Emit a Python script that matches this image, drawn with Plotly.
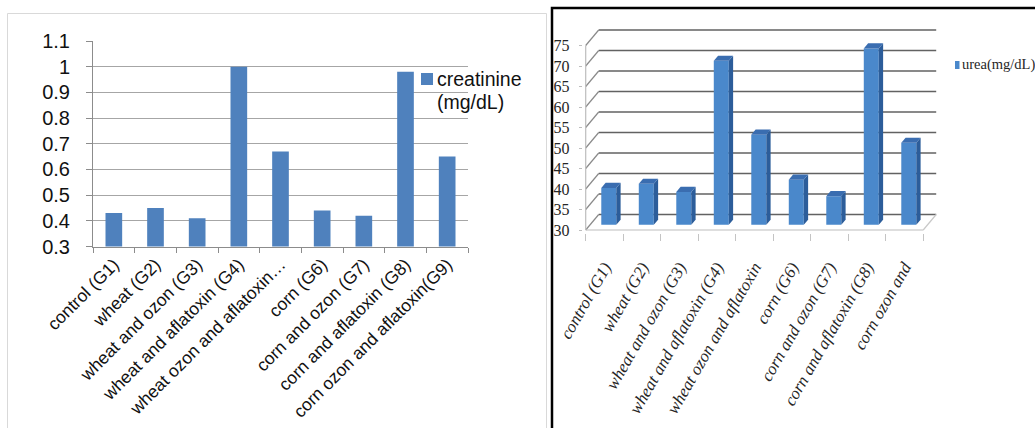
import plotly.graph_objects as go

# ---------------- data ----------------
groups = ["control (G1)", "wheat (G2)", "wheat and ozon (G3)",
          "wheat and aflatoxin (G4)", "wheat ozon and aflatoxin…", "corn (G6)",
          "corn and ozon (G7)", "corn and aflatoxin (G8)", "corn ozon and aflatoxin(G9)"]
creatinine = [0.43, 0.45, 0.41, 1.00, 0.67, 0.44, 0.42, 0.98, 0.65]
creatinine_ticks = [0.3, 0.4, 0.5, 0.6, 0.7, 0.8, 0.9, 1.0, 1.1]
creatinine_tick_text = ["0.3", "0.4", "0.5", "0.6", "0.7", "0.8", "0.9", "1", "1.1"]

urea_groups = ["control (G1)", "wheat (G2)", "wheat and ozon (G3)",
               "wheat and aflatoxin (G4)", "wheat ozon and aflatoxin", "corn (G6)",
               "corn and ozon (G7)", "corn and aflatoxin (G8)", "corn ozon and"]
urea = [39, 40, 38, 70, 52, 41, 37, 73, 50]
urea_ticks = [30, 35, 40, 45, 50, 55, 60, 65, 70, 75]

# ---------------- page geometry helpers ----------------
W, H = 1035, 428


def fx(px):
    return px / W


def fy(py):
    return 1 - py / H


BLUE = "#4f81bd"
SANS = "Liberation Sans"
SERIF = "Liberation Serif"

# ---------------- pseudo-3D geometry for the urea chart ----------------
n = len(urea_groups)
CAT_PX = 37.5          # pixels per category
VAL_PX = 4.1           # pixels per mg/dL
DEPTH_X_PX, DEPTH_Y_PX = 13.0, 15.5   # oblique offset of the back wall
DX = DEPTH_X_PX / CAT_PX
DY = DEPTH_Y_PX / VAL_PX
U_MIN, U_MAX = urea_ticks[0], urea_ticks[-1]
PAD = 3.0
FRONT_LEFT, FRONT_BOTTOM = 585.7, 230.0

x2_px = (FRONT_LEFT - PAD, FRONT_LEFT + (n + DX) * CAT_PX + PAD)
y2_px = (FRONT_BOTTOM + PAD, FRONT_BOTTOM - (U_MAX - U_MIN + DY) * VAL_PX - PAD)
x2_range = [-0.5 - PAD / CAT_PX, n - 0.5 + DX + PAD / CAT_PX]
y2_range = [U_MIN - PAD / VAL_PX, U_MAX + DY + PAD / VAL_PX]

# the bars stand one third of the way into the depth
bx, by = DEPTH_X_PX / 3, DEPTH_Y_PX / 3
x3_px = (x2_px[0] + bx, x2_px[1] + bx)
y3_px = (FRONT_BOTTOM - by, y2_px[1] - by)
y3_range = [U_MIN, y2_range[1]]

BAR_W = 0.4
ddx, ddy = DX / 3, DY / 3

fig = go.Figure()

# creatinine bars
fig.add_trace(go.Bar(x=groups, y=creatinine, marker=dict(color=BLUE, line=dict(width=0)),
                     name="creatinine (mg/dL)", showlegend=False, xaxis="x", yaxis="y"))

# urea bars (front faces)
fig.add_trace(go.Bar(x=urea_groups, y=urea, marker=dict(color="#4a88cb", line=dict(width=0)),
                     name="urea(mg/dL)", showlegend=False, xaxis="x3", yaxis="y3"))

shapes = []

# panel frames
shapes.append(dict(type="rect", xref="paper", yref="paper", x0=fx(7.5), x1=fx(546.5),
                   y0=fy(440), y1=fy(13.5), line=dict(color="#d9d9d9", width=1)))
shapes.append(dict(type="rect", xref="paper", yref="paper", x0=fx(552), x1=fx(1050),
                   y0=fy(440), y1=fy(8), line=dict(color="#000000", width=2.5)))

# back wall gridlines and side wall diagonals
for v in urea_ticks:
    shapes.append(dict(type="line", xref="x2", yref="y2", layer="below",
                       x0=-0.5 + DX, x1=n - 0.5 + DX, y0=v + DY, y1=v + DY,
                       line=dict(color="#626262", width=1.6)))
    shapes.append(dict(type="line", xref="x2", yref="y2", layer="below",
                       x0=-0.5, x1=-0.5 + DX, y0=v, y1=v + DY,
                       line=dict(color="#8a8a8a", width=1.2)))

# floor edges and front value axis
shapes.append(dict(type="line", xref="x2", yref="y2", layer="below",
                   x0=-0.5, x1=n - 0.5, y0=U_MIN, y1=U_MIN,
                   line=dict(color="#bdbdbd", width=1.2)))
shapes.append(dict(type="line", xref="x2", yref="y2", layer="below",
                   x0=n - 0.5, x1=n - 0.5 + DX, y0=U_MIN, y1=U_MIN + DY,
                   line=dict(color="#c8c8c8", width=1.2)))
shapes.append(dict(type="line", xref="x2", yref="y2", layer="below",
                   x0=-0.5, x1=-0.5, y0=U_MIN, y1=U_MAX,
                   line=dict(color="#bdbdbd", width=1.2)))

# side and top faces of the urea bars
for i, v in enumerate(urea):
    xr = i + BAR_W / 2
    xl = i - BAR_W / 2
    side = (f"M {xr},{U_MIN} L {xr},{v} L {xr + ddx},{v + ddy} "
            f"L {xr + ddx},{U_MIN + ddy} Z")
    top = (f"M {xl},{v} L {xr},{v} L {xr + ddx},{v + ddy} "
           f"L {xl + ddx},{v + ddy} Z")
    shapes.append(dict(type="path", xref="x3", yref="y3", path=side, layer="above",
                       fillcolor="#2c5d9a", line=dict(width=0)))
    shapes.append(dict(type="path", xref="x3", yref="y3", path=top, layer="above",
                       fillcolor="#3a6db0", line=dict(width=0)))

# legend keys
shapes.append(dict(type="rect", xref="paper", yref="paper", x0=fx(421), x1=fx(433),
                   y0=fy(85), y1=fy(73), fillcolor=BLUE, line=dict(width=0)))
shapes.append(dict(type="rect", xref="paper", yref="paper", x0=fx(955), x1=fx(959.5),
                   y0=fy(69), y1=fy(61), fillcolor="#4a88cb", line=dict(width=0)))

annotations = [
    dict(text="creatinine", xref="paper", yref="paper", x=fx(435), y=fy(78.5),
         xanchor="left", yanchor="middle", showarrow=False,
         font=dict(family=SANS, size=19.5, color="#111111")),
    dict(text="(mg/dL)", xref="paper", yref="paper", x=fx(435), y=fy(101.5),
         xanchor="left", yanchor="middle", showarrow=False,
         font=dict(family=SANS, size=19.5, color="#111111")),
    dict(text="urea(mg/dL)", xref="paper", yref="paper", x=fx(960), y=fy(65),
         xanchor="left", yanchor="middle", showarrow=False,
         font=dict(family=SERIF, size=14.5, color="#262626")),
]

fig.update_layout(
    width=W, height=H,
    margin=dict(l=0, r=0, t=0, b=0, pad=0),
    paper_bgcolor="white", plot_bgcolor="rgba(0,0,0,0)",
    bargap=1 - BAR_W,
    showlegend=False,
    shapes=shapes,
    annotations=annotations,
    # creatinine chart
    xaxis=dict(domain=[fx(93), fx(468)], anchor="y", type="category", automargin=False,
               tickangle=-45, ticks="outside", tickson="boundaries", ticklen=5,
               tickcolor="#8c8c8c", showline=True, linecolor="#8c8c8c", linewidth=1,
               showgrid=False, zeroline=False,
               tickfont=dict(family=SANS, size=17.5, color="#111111")),
    yaxis=dict(domain=[fy(246.5), fy(41)], anchor="x", range=[0.3, 1.1], automargin=False,
               tickmode="array", tickvals=creatinine_ticks, ticktext=creatinine_tick_text,
               ticks="outside", ticklen=6, tickcolor="#8c8c8c",
               showline=True, linecolor="#8c8c8c", linewidth=1,
               showgrid=True, gridcolor="#a6a6a6", gridwidth=1, zeroline=False,
               ticklabelstandoff=12,
               tickfont=dict(family=SANS, size=20, color="#111111")),
    # urea chart: front plane (labels, walls)
    xaxis2=dict(domain=[fx(x2_px[0]), fx(x2_px[1])], anchor="y2", range=x2_range,
                automargin=False,
                tickmode="array", tickvals=list(range(n)), ticktext=urea_groups,
                tickangle=-60, ticks="", showgrid=False, zeroline=False, showline=False,
                ticklabelstandoff=20,
                minor=dict(tickmode="array", tickvals=[i - 0.5 for i in range(n + 1)],
                           ticks="outside", ticklen=7, tickcolor="#c4c4c4", showgrid=False),
                tickfont=dict(family=SERIF, size=17, color="#262626", style="italic")),
    yaxis2=dict(domain=[fy(y2_px[0]), fy(y2_px[1])], anchor="x2", range=y2_range,
                automargin=False,
                tickmode="array", tickvals=urea_ticks, ticks="outside", ticklen=3,
                tickcolor="#bdbdbd", showgrid=False, zeroline=False, showline=False,
                ticklabelstandoff=6,
                tickfont=dict(family=SERIF, size=16, color="#262626")),
    # urea chart: bar plane
    xaxis3=dict(domain=[fx(x3_px[0]), fx(x3_px[1])], anchor="y3", type="category",
                range=x2_range, visible=False, fixedrange=True, automargin=False),
    yaxis3=dict(domain=[fy(y3_px[0]), fy(y3_px[1])], anchor="x3", range=y3_range,
                visible=False, fixedrange=True, automargin=False),
)

fig.write_html("out.html")
